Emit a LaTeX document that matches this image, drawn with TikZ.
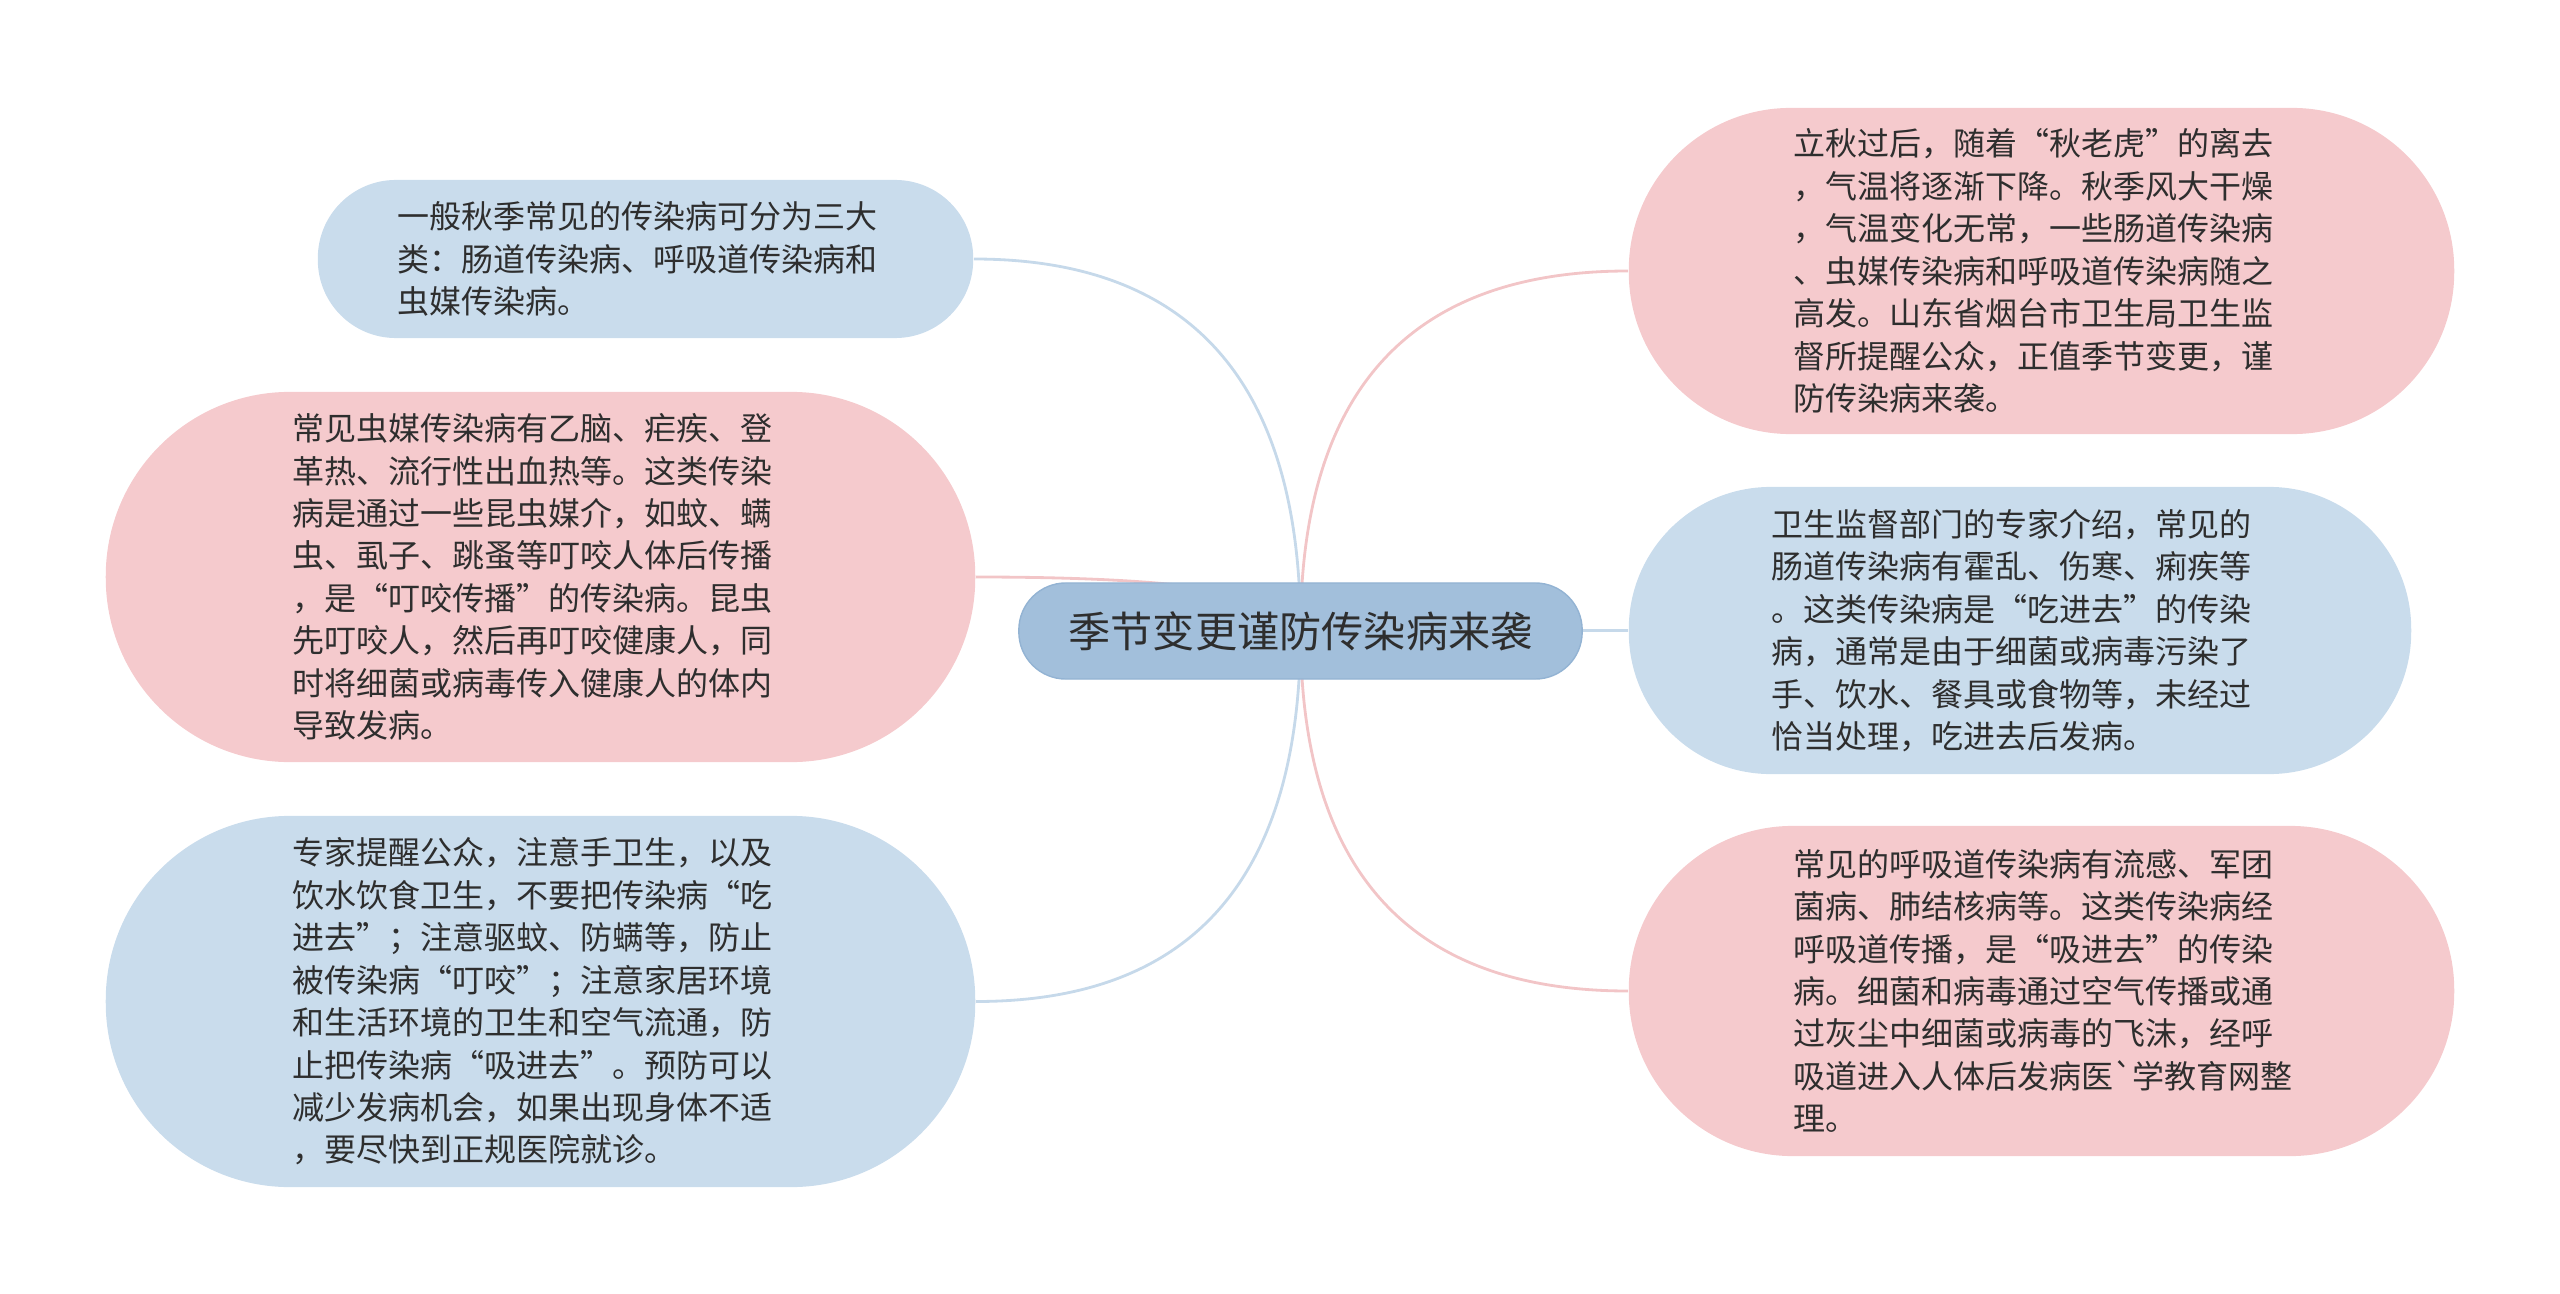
\documentclass[tikz,border=0pt]{standalone}
\usepackage{fontspec}
\newfontfamily\cjk{Noto Sans CJK SC}[Ligatures=TeXOff]
\usetikzlibrary{calc,backgrounds}
\definecolor{rootfill}{HTML}{A2BFDB}
\definecolor{rootline}{HTML}{93B3D3}
\definecolor{bluefill}{HTML}{C9DCEC}
\definecolor{pinkfill}{HTML}{F5CACD}
\definecolor{bluelink}{HTML}{C6D9EA}
\definecolor{pinklink}{HTML}{F2C5C7}
\definecolor{inktext}{HTML}{2E2E2E}
\begin{document}
\begin{tikzpicture}[
    x=0.01cm, y=-0.01cm,
    every node/.style={inner sep=0pt, text=inktext},
    root node/.style={draw=rootline, line width=0.4pt, fill=rootfill, rounded corners=0.47cm,
        minimum width=5.63cm, minimum height=0.96cm, font=\cjk\fontsize{12pt}{14pt}\selectfont},
    leaf/.style={fill=#1, text width=4.96cm, align=left, font=\cjk\fontsize{9.1pt}{12.07pt}\selectfont},
    blue leaf/.style={leaf=bluefill},
    pink leaf/.style={leaf=pinkfill},
    branch/.style={line width=0.8pt, to path={.. controls ($(\tikztostart)!0.667!(\tikztostart |- \tikztotarget)$)
        and ($(\tikztotarget)!0.667!(\tikztostart |- \tikztotarget)$) .. (\tikztotarget)}},
    ]
\useasboundingbox (0,0) rectangle (2560,1294);
\node[root node] (root) at (1300.5,631) {季节变更谨防传染病来袭};
\node[blue leaf, minimum width=6.55cm, minimum height=1.58cm, rounded corners=0.78cm] (kinds) at (645.5,259) {一般秋季常见的传染病可分为三大\\
类：肠道传染病、呼吸道传染病和\\
虫媒传染病。};
\node[pink leaf, minimum width=8.69cm, minimum height=3.70cm, rounded corners=1.84cm] (insect) at (540.5,577) {常见虫媒传染病有乙脑、疟疾、登\\
革热、流行性出血热等。这类传染\\
病是通过一些昆虫媒介，如蚊、螨\\
虫、虱子、跳蚤等叮咬人体后传播\\
，是“叮咬传播”的传染病。昆虫\\
先叮咬人，然后再叮咬健康人，同\\
时将细菌或病毒传入健康人的体内\\
导致发病。};
\node[blue leaf, minimum width=8.69cm, minimum height=3.71cm, rounded corners=1.84cm] (advice) at (540.5,1001.5) {专家提醒公众，注意手卫生，以及\\
饮水饮食卫生，不要把传染病“吃\\
进去”；注意驱蚊、防螨等，防止\\
被传染病“叮咬”；注意家居环境\\
和生活环境的卫生和空气流通，防\\
止把传染病“吸进去”。预防可以\\
减少发病机会，如果出现身体不适\\
，要尽快到正规医院就诊。};
\node[pink leaf, minimum width=8.25cm, minimum height=3.26cm, rounded corners=1.62cm] (autumn) at (2041.5,271) {立秋过后，随着“秋老虎”的离去\\
，气温将逐渐下降。秋季风大干燥\\
，气温变化无常，一些肠道传染病\\
、虫媒传染病和呼吸道传染病随之\\
高发。山东省烟台市卫生局卫生监\\
督所提醒公众，正值季节变更，谨\\
防传染病来袭。};
\node[blue leaf, minimum width=7.82cm, minimum height=2.87cm, rounded corners=1.42cm] (gut) at (2020,630.5) {卫生监督部门的专家介绍，常见的\\
肠道传染病有霍乱、伤寒、痢疾等\\
。这类传染病是“吃进去”的传染\\
病，通常是由于细菌或病毒污染了\\
手、饮水、餐具或食物等，未经过\\
恰当处理，吃进去后发病。};
\node[pink leaf, minimum width=8.25cm, minimum height=3.30cm, rounded corners=1.64cm] (breath) at (2041.5,991) {常见的呼吸道传染病有流感、军团\\
菌病、肺结核病等。这类传染病经\\
呼吸道传播，是“吸进去”的传染\\
病。细菌和病毒通过空气传播或通\\
过灰尘中细菌或病毒的飞沫，经呼\\
吸道进入人体后发病医`学教育网整\\
理。};
\begin{scope}[on background layer]
\draw[branch, draw=bluelink] (root.center) to (kinds.east);
\draw[branch, draw=pinklink] (root.center) to (insect.east);
\draw[branch, draw=bluelink] (root.center) to (advice.east);
\draw[branch, draw=pinklink] (root.center) to (autumn.west);
\draw[branch, draw=bluelink] (root.center) to (gut.west);
\draw[branch, draw=pinklink] (root.center) to (breath.west);
\end{scope}
\end{tikzpicture}
\end{document}
